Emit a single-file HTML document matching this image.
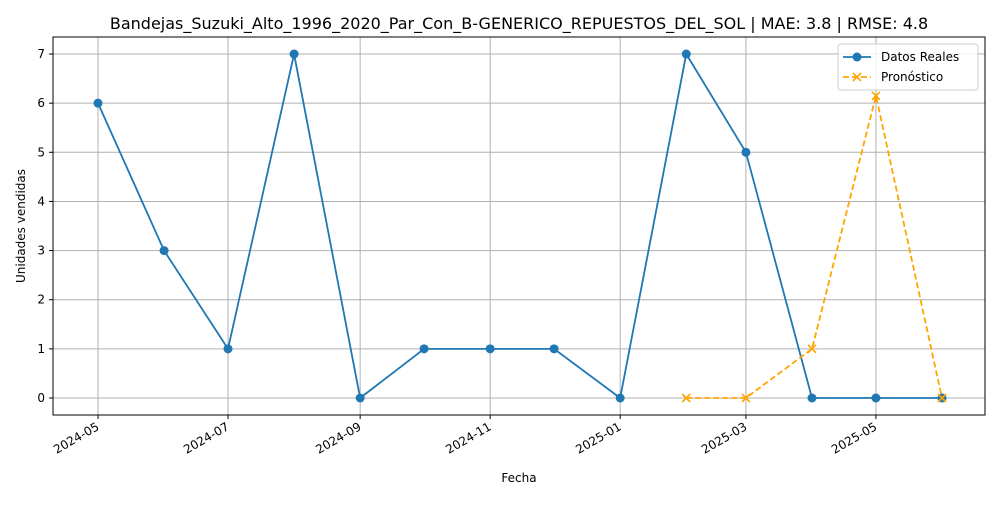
<!DOCTYPE html>
<html><head><meta charset="utf-8"><style>
body{margin:0;background:#fff;font-family:"Liberation Sans","DejaVu Sans",sans-serif}
svg text{font-family:"DejaVu Sans","Liberation Sans",sans-serif}
</style></head><body>
<svg id="chart" width="1000" height="500" xmlns="http://www.w3.org/2000/svg"></svg>
<script>
const actualDates=["2024-05-01","2024-06-01","2024-07-01","2024-08-01","2024-09-01","2024-10-01","2024-11-01","2024-12-01","2025-01-01","2025-02-01","2025-03-01","2025-04-01","2025-05-01","2025-06-01"];
const actualValues=[6,3,1,7,0,1,1,1,0,7,5,0,0,0];
const forecastDates=["2025-02-01","2025-03-01","2025-04-01","2025-05-01","2025-06-01"];
const forecastValues=[0,0,1,6.15,0];
const xTickLabels=["2024-05","2024-07","2024-09","2024-11","2025-01","2025-03","2025-05"];
const yTickLabels=[0,1,2,3,4,5,6,7];

const NS="http://www.w3.org/2000/svg";
const svg=document.getElementById('chart');
const L=53,R=985,T=37,B=415;
const d0=Date.parse("2024-05-01"),d1=Date.parse("2025-06-01");
function xs(d){return 98+(Date.parse(d.length===7?d+"-01":d)-d0)/(d1-d0)*844;}
function ys(v){return 398-v*49.14;}
function mk(tag,attrs,parent){const e=document.createElementNS(NS,tag);for(const k in attrs)e.setAttribute(k,attrs[k]);(parent||svg).appendChild(e);return e;}

yTickLabels.forEach(v=>{
  const g=mk('line',{x1:L,x2:R,y1:ys(v),y2:ys(v),stroke:'#b0b0b0','stroke-width':1});
  
  
  mk('line',{x1:L-4,x2:L,y1:ys(v),y2:ys(v),stroke:'#000'});
  const t=mk('text',{x:L-8,y:ys(v)+4,'text-anchor':'end','font-size':12});
  t.textContent=v;
  
  
});
xTickLabels.forEach(d=>{
  const x=xs(d);
  const g=mk('line',{x1:x,x2:x,y1:T,y2:B,stroke:'#b0b0b0','stroke-width':1});
  
  
  mk('line',{x1:x,x2:x,y1:B,y2:B+4,stroke:'#000'});
  const t=mk('text',{x:x+2,y:B+14,'text-anchor':'end','font-size':12,transform:`rotate(-30 ${x+2} ${B+14})`});
  t.textContent=d;
  
  
});
const frame=mk('rect',{x:L,y:T,width:R-L,height:B-T,fill:'none',stroke:'#000','stroke-width':1});



const ap=mk('polyline',{points:actualDates.map((d,i)=>xs(d)+','+ys(actualValues[i])).join(' '),fill:'none',stroke:'#1f77b4','stroke-width':1.8});


actualDates.forEach((d,i)=>{
  const c=mk('circle',{cx:xs(d),cy:ys(actualValues[i]),r:4.5,fill:'#1f77b4'});
  
  
});
const fp=mk('polyline',{points:forecastDates.map((d,i)=>xs(d)+','+ys(forecastValues[i])).join(' '),fill:'none',stroke:'orange','stroke-width':1.8,'stroke-dasharray':'6,3'});


forecastDates.forEach((d,i)=>{
  const x=xs(d),y=ys(forecastValues[i]);
  const p=mk('path',{d:`M${x-4},${y-4}L${x+4},${y+4}M${x-4},${y+4}L${x+4},${y-4}`,stroke:'orange','stroke-width':1.6});
  
  
});

const title=mk('text',{x:519,y:29,'text-anchor':'middle','font-size':16});
title.textContent="Bandejas_Suzuki_Alto_1996_2020_Par_Con_B-GENERICO_REPUESTOS_DEL_SOL | MAE: 3.8 | RMSE: 4.8";


const xt=mk('text',{x:519,y:482,'text-anchor':'middle','font-size':12});
xt.textContent="Fecha";


const yt=mk('text',{x:25,y:226,'text-anchor':'middle','font-size':12,transform:'rotate(-90 25 226)'});
yt.textContent="Unidades vendidas";



const lg=mk('g',{});


mk('rect',{x:838,y:44,width:140,height:46,rx:3,fill:'#fff','fill-opacity':0.8,stroke:'#ccc'},lg);
mk('line',{x1:843,x2:871,y1:57,y2:57,stroke:'#1f77b4','stroke-width':1.8},lg);
mk('circle',{cx:857,cy:57,r:4.5,fill:'#1f77b4'},lg);
const l1=mk('text',{x:881,y:61,'font-size':12},lg);l1.textContent="Datos Reales";


mk('line',{x1:843,x2:871,y1:77,y2:77,stroke:'orange','stroke-width':1.8,'stroke-dasharray':'6,3'},lg);
mk('path',{d:'M853,73L861,81M853,81L861,73',stroke:'orange','stroke-width':1.6},lg);
const l2=mk('text',{x:881,y:81,'font-size':12},lg);l2.textContent="Pronóstico";


</script>
</body></html>
